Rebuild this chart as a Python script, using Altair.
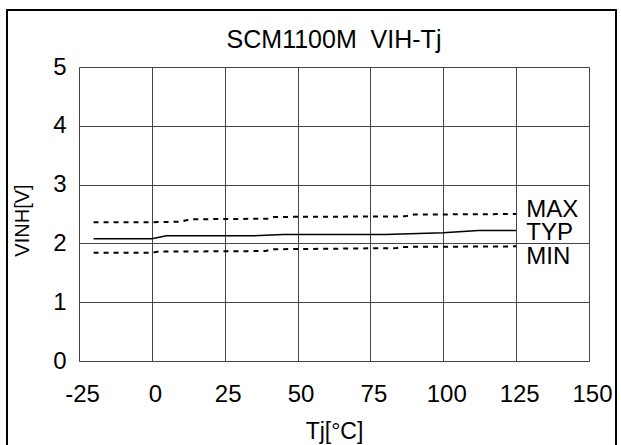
import altair as alt
import pandas as pd

title_text = "SCM1100M\u00a0 VIH-Tj"

tj_max = [-20, 0, 10, 13, 40, 42, 87, 90, 125]
v_max = [2.36, 2.36, 2.37, 2.41, 2.42, 2.45, 2.46, 2.49, 2.50]

tj_typ = [-20, 0, 5, 35, 45, 80, 100, 112, 125]
v_typ = [2.08, 2.08, 2.13, 2.13, 2.15, 2.15, 2.18, 2.22, 2.22]

tj_min = [-20, 0, 2, 39, 41, 84, 86, 125]
v_min = [1.84, 1.84, 1.86, 1.87, 1.90, 1.92, 1.94, 1.95]

label_names = ["MAX", "TYP", "MIN"]
label_tj = [128.5, 128.5, 128.5]
label_v = [2.57, 2.18, 1.77]

x_ticks = [-25, 0, 25, 50, 75, 100, 125, 150]
y_ticks = [0, 1, 2, 3, 4, 5]

FONT = "Liberation Sans"

df = pd.concat([
    pd.DataFrame({"Tj": tj_max, "V": v_max, "s": "MAX"}),
    pd.DataFrame({"Tj": tj_typ, "V": v_typ, "s": "TYP"}),
    pd.DataFrame({"Tj": tj_min, "V": v_min, "s": "MIN"}),
])
lab = pd.DataFrame({"name": label_names, "Tj": label_tj, "V": label_v})

xs = alt.Scale(domain=[-25, 150], nice=False, zero=False)
ys = alt.Scale(domain=[0, 5], nice=False)

xax = alt.Axis(values=x_ticks, title="Tj[°C]", grid=True, gridColor="#444444",
               gridOpacity=1, gridWidth=1, ticks=False, domain=False,
               labelExpr="'' + datum.value", labelFlush=False, labelOverlap=False,
               labelOffset=3,
               labelFont=FONT, labelFontSize=24, labelColor="black", labelPadding=21,
               titleFont=FONT, titleFontSize=23, titleFontWeight="normal", titleColor="black",
               titleY=70, titleBaseline="middle")
yax = alt.Axis(values=y_ticks, title="VINH[V]", grid=True, gridColor="#444444",
               gridOpacity=1, gridWidth=1, ticks=False, domain=False,
               labelExpr="'' + datum.value", labelFlush=False, labelOverlap=False,
               labelFont=FONT, labelFontSize=24, labelColor="black", labelPadding=13,
               titleFont=FONT, titleFontSize=20, titleFontWeight="normal", titleColor="black",
               titleX=-57, titleY=153, titleAngle=-90, titleAlign="center", titleBaseline="middle")

base = alt.Chart(df)

typ = base.transform_filter(alt.datum.s == "TYP").mark_line(color="black", strokeWidth=1.5).encode(
    x=alt.X("Tj:Q", scale=xs, axis=xax),
    y=alt.Y("V:Q", scale=ys, axis=yax),
)
mx = base.transform_filter(alt.datum.s == "MAX").mark_line(color="black", strokeWidth=2, strokeDash=[5, 5]).encode(
    x=alt.X("Tj:Q", scale=xs), y=alt.Y("V:Q", scale=ys))
mn = base.transform_filter(alt.datum.s == "MIN").mark_line(color="black", strokeWidth=2, strokeDash=[5, 5]).encode(
    x=alt.X("Tj:Q", scale=xs), y=alt.Y("V:Q", scale=ys))

txt = alt.Chart(lab).mark_text(align="left", baseline="middle", font=FONT, fontSize=24, color="black").encode(
    x=alt.X("Tj:Q", scale=xs), y=alt.Y("V:Q", scale=ys), text="name:N")

frame = alt.Chart(lab).mark_rect(fill=None, stroke="black", strokeWidth=1.5).encode(
    x=alt.value(-72), x2=alt.value(537), y=alt.value(-57), y2=alt.value(380))

ttl = alt.Chart(pd.DataFrame({"t": [title_text]})).mark_text(
    align="center", baseline="middle", font=FONT, fontSize=25, color="black").encode(
    x=alt.value(255), y=alt.value(-27), text="t:N")

chart = alt.layer(typ, mx, mn, txt, frame, ttl).properties(
    width=510, height=294,
    autosize=alt.AutoSizeParams(type="none"),
    padding={"left": 79, "top": 67, "right": 32, "bottom": 84},
).configure_view(stroke="#888888", strokeWidth=1.5).configure(background="white")

chart.save("out.html", embed_options={"renderer": "svg", "actions": False})
